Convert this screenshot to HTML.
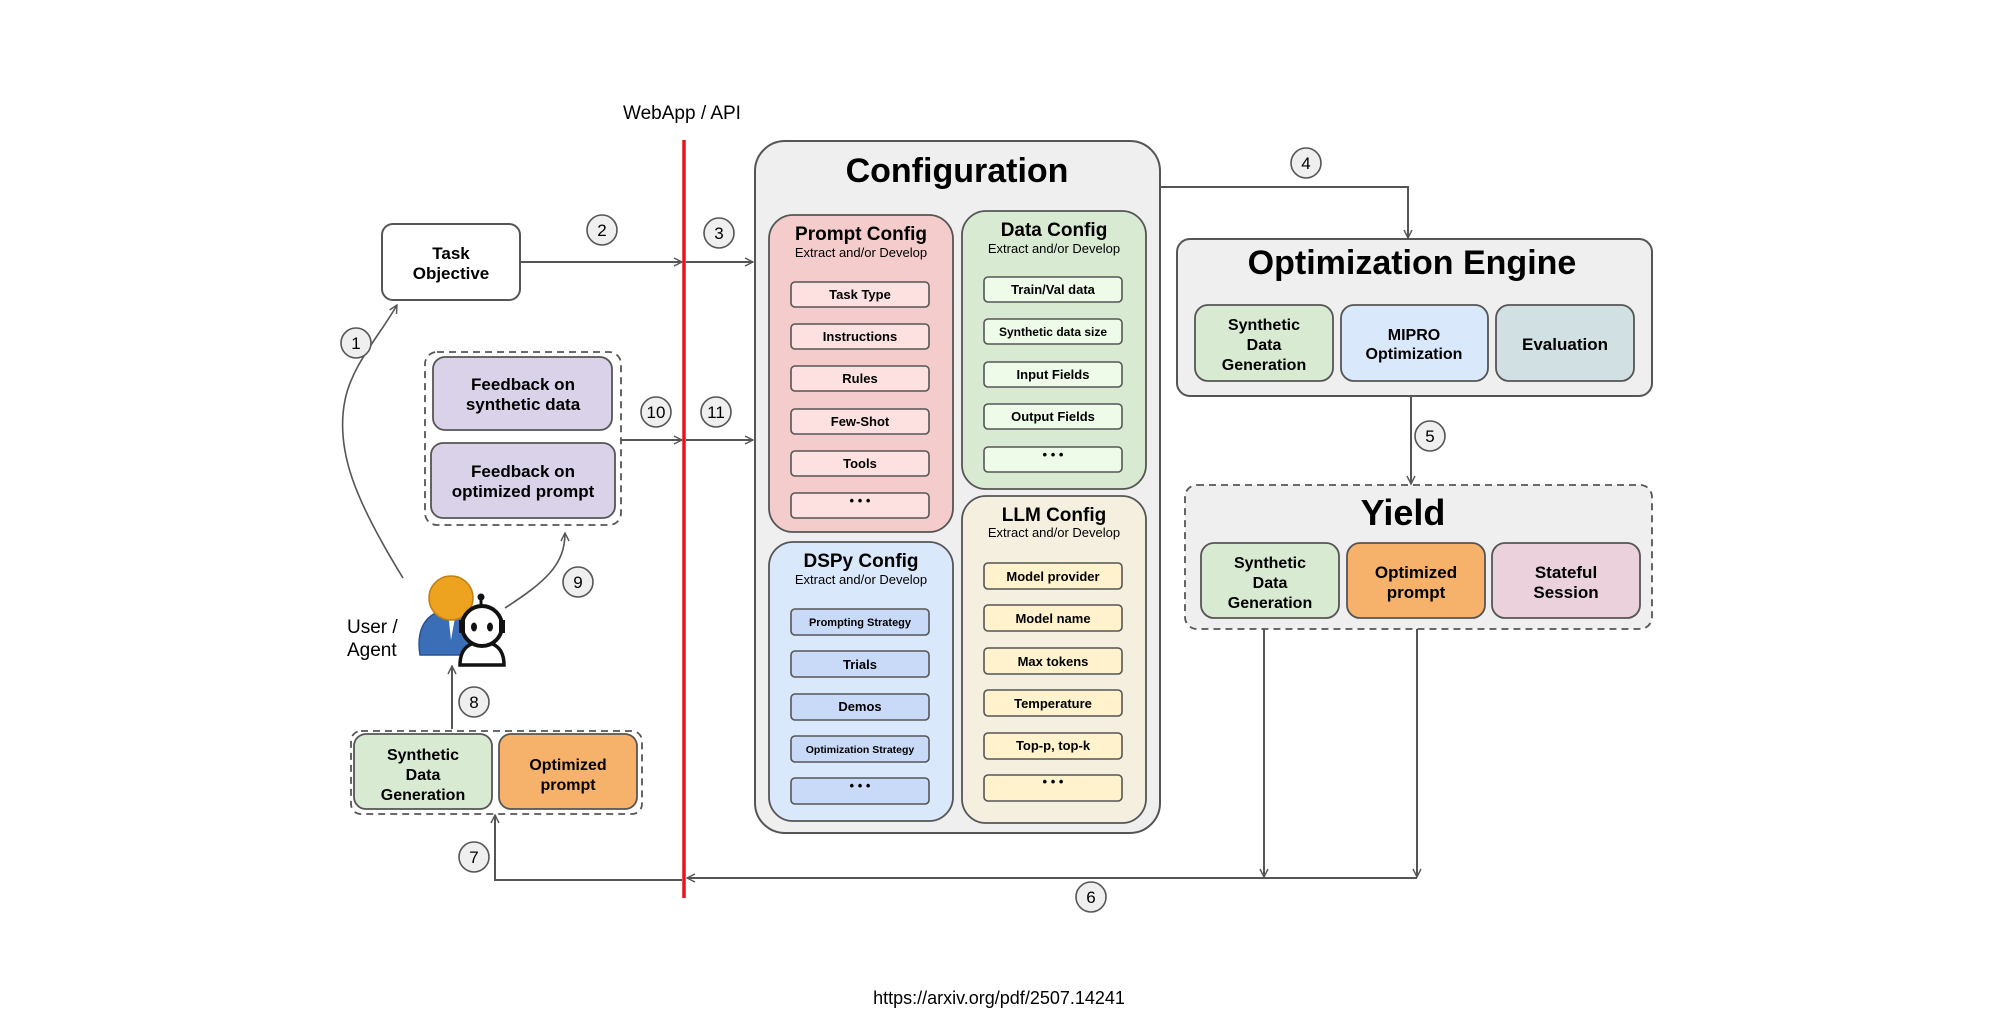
<!DOCTYPE html>
<html><head><meta charset="utf-8"><style>
html,body{margin:0;padding:0;background:#fff;}
svg{display:block;}
text{font-family:"Liberation Sans",Arial,sans-serif;fill:#000;}
.b{font-weight:bold;}
</style></head><body>
<svg width="2000" height="1030" viewBox="0 0 2000 1030" xmlns="http://www.w3.org/2000/svg">
<defs>
<marker id="ar" markerWidth="10" markerHeight="10" refX="9" refY="5" orient="auto" markerUnits="userSpaceOnUse">
<path d="M1,1 L9,5 L1,9" fill="none" stroke="#555" stroke-width="1.4"/>
</marker>
</defs>
<g stroke="#555" stroke-width="2" fill="none">
<!-- arrows -->
<line x1="520" y1="262" x2="682" y2="262" marker-end="url(#ar)"/>
<line x1="686" y1="262" x2="753" y2="262" marker-end="url(#ar)"/>
<line x1="621" y1="440" x2="682" y2="440" marker-end="url(#ar)"/>
<line x1="686" y1="440" x2="753" y2="440" marker-end="url(#ar)"/>
<polyline points="1160,187 1408,187 1408,238" marker-end="url(#ar)"/>
<line x1="1411" y1="396" x2="1411" y2="484" marker-end="url(#ar)"/>
<line x1="1264" y1="623" x2="1264" y2="877" marker-end="url(#ar)"/>
<line x1="1417" y1="623" x2="1417" y2="877" marker-end="url(#ar)"/>
<polyline points="1417,878 687,878" marker-end="url(#ar)"/>
<polyline points="682,880 495,880 495,815" marker-end="url(#ar)"/>
<line x1="452" y1="729" x2="452" y2="666" marker-end="url(#ar)"/>
<path d="M403,578 C355,500 335,450 345,400 C352,365 380,335 397,305" marker-end="url(#ar)" stroke-width="1.6"/>
<path d="M505,608 C545,582 565,565 565,533" marker-end="url(#ar)" stroke-width="1.6"/>
</g>
<!-- red line -->
<line x1="684" y1="140" x2="684" y2="898" stroke="#e8141c" stroke-width="3.5"/>
<text x="682" y="119" font-size="19" text-anchor="middle">WebApp / API</text>

<!-- Task Objective -->
<rect x="382" y="224" width="138" height="76" rx="11" fill="#fff" stroke="#555" stroke-width="2"/>
<text class="b" x="451" y="259" font-size="17" text-anchor="middle">Task</text>
<text class="b" x="451" y="279" font-size="17" text-anchor="middle">Objective</text>

<!-- feedback -->
<rect x="425" y="352" width="196" height="173" rx="12" fill="#fff" stroke="#555" stroke-width="1.8" stroke-dasharray="7,5"/>
<rect x="433" y="357" width="179" height="73" rx="12" fill="#d9d2e9" stroke="#555" stroke-width="1.8"/>
<text class="b" x="523" y="390" font-size="17" text-anchor="middle">Feedback on</text>
<text class="b" x="523" y="410" font-size="17" text-anchor="middle">synthetic data</text>
<rect x="431" y="443" width="184" height="75" rx="12" fill="#d9d2e9" stroke="#555" stroke-width="1.8"/>
<text class="b" x="523" y="477" font-size="17" text-anchor="middle">Feedback on</text>
<text class="b" x="523" y="497" font-size="17" text-anchor="middle">optimized prompt</text>

<!-- user/agent -->
<text x="347" y="633" font-size="19">User /</text>
<text x="347" y="656" font-size="19">Agent</text>
<path d="M420,655 C416,630 425,612 448,610 L462,610 C478,612 486,630 482,655 Z" fill="#3a6fb8" stroke="#2a5090" stroke-width="1.5"/>
<path d="M448,612 L451,640 L456,612 Z" fill="#fff"/>
<circle cx="451" cy="598" r="22" fill="#eea320" stroke="#c27f10" stroke-width="1.5"/>
<path d="M460,665 C460,648 470,642 482,642 C494,642 504,648 504,665 Z" fill="#fff" stroke="#111" stroke-width="3.5"/>
<circle cx="482" cy="626" r="20" fill="#fff" stroke="#111" stroke-width="4"/>
<rect x="459" y="620" width="6" height="13" fill="#111"/><rect x="499" y="620" width="6" height="13" fill="#111"/>
<line x1="481" y1="606" x2="481" y2="598" stroke="#111" stroke-width="3"/>
<circle cx="481" cy="597" r="3.5" fill="#111"/>
<ellipse cx="474" cy="627" rx="3" ry="4.5" fill="#111"/><ellipse cx="490" cy="627" rx="3" ry="4.5" fill="#111"/>

<!-- bottom outputs -->
<rect x="351" y="731" width="291" height="83" rx="10" fill="#fff" stroke="#555" stroke-width="1.8" stroke-dasharray="7,5"/>
<rect x="354" y="734" width="138" height="75" rx="12" fill="#d9ead3" stroke="#555" stroke-width="1.8"/>
<text class="b" x="423" y="760" font-size="16" text-anchor="middle">Synthetic</text>
<text class="b" x="423" y="780" font-size="16" text-anchor="middle">Data</text>
<text class="b" x="423" y="800" font-size="16" text-anchor="middle">Generation</text>
<rect x="499" y="734" width="138" height="75" rx="12" fill="#f6b26b" stroke="#555" stroke-width="1.8"/>
<text class="b" x="568" y="770" font-size="16" text-anchor="middle">Optimized</text>
<text class="b" x="568" y="790" font-size="16" text-anchor="middle">prompt</text>

<!-- Configuration -->
<rect x="755" y="141" width="405" height="692" rx="30" fill="#efefef" stroke="#555" stroke-width="2"/>
<text class="b" x="957" y="182" font-size="34" text-anchor="middle">Configuration</text>

<rect x="769" y="215" width="184" height="317" rx="24" fill="#f4cccc" stroke="#555" stroke-width="1.8"/>
<text class="b" x="861" y="240" font-size="19" text-anchor="middle">Prompt Config</text>
<text x="861" y="257" font-size="13" text-anchor="middle">Extract and/or Develop</text>
<g fill="#fde0e0" stroke="#555" stroke-width="1.6">
<rect x="791" y="282" width="138" height="25" rx="4"/><rect x="791" y="324" width="138" height="25" rx="4"/>
<rect x="791" y="366" width="138" height="25" rx="4"/><rect x="791" y="409" width="138" height="25" rx="4"/>
<rect x="791" y="451" width="138" height="25" rx="4"/><rect x="791" y="493" width="138" height="25" rx="4"/>
</g>
<g class="b" font-size="13" text-anchor="middle">
<text class="b" x="860" y="299">Task Type</text><text class="b" x="860" y="341">Instructions</text>
<text class="b" x="860" y="383">Rules</text><text class="b" x="860" y="426">Few-Shot</text>
<text class="b" x="860" y="468">Tools</text><text class="b" x="860" y="505">• • •</text>
</g>

<rect x="962" y="211" width="184" height="278" rx="24" fill="#d9ead3" stroke="#555" stroke-width="1.8"/>
<text class="b" x="1054" y="236" font-size="19" text-anchor="middle">Data Config</text>
<text x="1054" y="253" font-size="13" text-anchor="middle">Extract and/or Develop</text>
<g fill="#eefbe9" stroke="#555" stroke-width="1.6">
<rect x="984" y="277" width="138" height="25" rx="4"/><rect x="984" y="319" width="138" height="25" rx="4"/>
<rect x="984" y="362" width="138" height="25" rx="4"/><rect x="984" y="404" width="138" height="25" rx="4"/>
<rect x="984" y="447" width="138" height="25" rx="4"/>
</g>
<g font-size="13" text-anchor="middle">
<text class="b" x="1053" y="294">Train/Val data</text><text class="b" x="1053" y="336" font-size="12">Synthetic data size</text>
<text class="b" x="1053" y="379">Input Fields</text><text class="b" x="1053" y="421">Output Fields</text>
<text class="b" x="1053" y="459">• • •</text>
</g>

<rect x="769" y="542" width="184" height="279" rx="24" fill="#dae8fc" stroke="#555" stroke-width="1.8"/>
<text class="b" x="861" y="567" font-size="19" text-anchor="middle">DSPy Config</text>
<text x="861" y="584" font-size="13" text-anchor="middle">Extract and/or Develop</text>
<g fill="#c9daf8" stroke="#555" stroke-width="1.6">
<rect x="791" y="609" width="138" height="26" rx="4"/><rect x="791" y="651" width="138" height="26" rx="4"/>
<rect x="791" y="694" width="138" height="26" rx="4"/><rect x="791" y="736" width="138" height="26" rx="4"/>
<rect x="791" y="778" width="138" height="26" rx="4"/>
</g>
<g text-anchor="middle">
<text class="b" x="860" y="626" font-size="11">Prompting Strategy</text><text class="b" x="860" y="669" font-size="13">Trials</text>
<text class="b" x="860" y="711" font-size="13">Demos</text><text class="b" x="860" y="753" font-size="10.5">Optimization Strategy</text>
<text class="b" x="860" y="790" font-size="13">• • •</text>
</g>

<rect x="962" y="496" width="184" height="327" rx="24" fill="#f5efe0" stroke="#555" stroke-width="1.8"/>
<text class="b" x="1054" y="521" font-size="19" text-anchor="middle">LLM Config</text>
<text x="1054" y="537" font-size="13" text-anchor="middle">Extract and/or Develop</text>
<g fill="#fff2cc" stroke="#555" stroke-width="1.6">
<rect x="984" y="563" width="138" height="26" rx="4"/><rect x="984" y="605" width="138" height="26" rx="4"/>
<rect x="984" y="648" width="138" height="26" rx="4"/><rect x="984" y="690" width="138" height="26" rx="4"/>
<rect x="984" y="733" width="138" height="26" rx="4"/><rect x="984" y="775" width="138" height="26" rx="4"/>
</g>
<g font-size="13" text-anchor="middle">
<text class="b" x="1053" y="581">Model provider</text><text class="b" x="1053" y="623">Model name</text>
<text class="b" x="1053" y="666">Max tokens</text><text class="b" x="1053" y="708">Temperature</text>
<text class="b" x="1053" y="750">Top-p, top-k</text><text class="b" x="1053" y="786">• • •</text>
</g>

<!-- Optimization Engine -->
<rect x="1177" y="239" width="475" height="157" rx="13" fill="#efefef" stroke="#555" stroke-width="2"/>
<text class="b" x="1412" y="274" font-size="34" text-anchor="middle">Optimization Engine</text>
<rect x="1195" y="305" width="138" height="76" rx="13" fill="#d9ead3" stroke="#555" stroke-width="1.8"/>
<text class="b" x="1264" y="330" font-size="16" text-anchor="middle">Synthetic</text>
<text class="b" x="1264" y="350" font-size="16" text-anchor="middle">Data</text>
<text class="b" x="1264" y="370" font-size="16" text-anchor="middle">Generation</text>
<rect x="1341" y="305" width="147" height="76" rx="13" fill="#dae8fc" stroke="#555" stroke-width="1.8"/>
<text class="b" x="1414" y="340" font-size="16" text-anchor="middle">MIPRO</text>
<text class="b" x="1414" y="359" font-size="16" text-anchor="middle">Optimization</text>
<rect x="1496" y="305" width="138" height="76" rx="13" fill="#d0e0e3" stroke="#555" stroke-width="1.8"/>
<text class="b" x="1565" y="350" font-size="17" text-anchor="middle">Evaluation</text>

<!-- Yield -->
<rect x="1185" y="485" width="467" height="144" rx="12" fill="#efefef" stroke="#555" stroke-width="1.8" stroke-dasharray="7,5"/>
<text class="b" x="1403" y="525" font-size="36" text-anchor="middle">Yield</text>
<rect x="1201" y="543" width="138" height="75" rx="13" fill="#d9ead3" stroke="#555" stroke-width="1.8"/>
<text class="b" x="1270" y="568" font-size="16" text-anchor="middle">Synthetic</text>
<text class="b" x="1270" y="588" font-size="16" text-anchor="middle">Data</text>
<text class="b" x="1270" y="608" font-size="16" text-anchor="middle">Generation</text>
<rect x="1347" y="543" width="138" height="75" rx="13" fill="#f6b26b" stroke="#555" stroke-width="1.8"/>
<text class="b" x="1416" y="578" font-size="17" text-anchor="middle">Optimized</text>
<text class="b" x="1416" y="598" font-size="17" text-anchor="middle">prompt</text>
<rect x="1492" y="543" width="148" height="75" rx="13" fill="#ead1dc" stroke="#555" stroke-width="1.8"/>
<text class="b" x="1566" y="578" font-size="17" text-anchor="middle">Stateful</text>
<text class="b" x="1566" y="598" font-size="17" text-anchor="middle">Session</text>

<!-- number circles -->
<g fill="#efefef" stroke="#555" stroke-width="1.6">
<circle cx="356" cy="343" r="15"/><circle cx="602" cy="230" r="15"/><circle cx="719" cy="233" r="15"/>
<circle cx="1306" cy="163" r="15"/><circle cx="1430" cy="436" r="15"/><circle cx="1091" cy="897" r="15"/>
<circle cx="474" cy="857" r="15"/><circle cx="474" cy="702" r="15"/><circle cx="578" cy="582" r="15"/>
<circle cx="656" cy="412" r="15"/><circle cx="716" cy="412" r="15"/>
</g>
<g font-size="17" text-anchor="middle" fill="#444">
<text x="356" y="349" fill="#444">1</text><text x="602" y="236" fill="#444">2</text><text x="719" y="239" fill="#444">3</text>
<text x="1306" y="169" fill="#444">4</text><text x="1430" y="442" fill="#444">5</text><text x="1091" y="903" fill="#444">6</text>
<text x="474" y="863" fill="#444">7</text><text x="474" y="708" fill="#444">8</text><text x="578" y="588" fill="#444">9</text>
<text x="656" y="418" fill="#444">10</text><text x="716" y="418" fill="#444">11</text>
</g>

<text x="999" y="1004" font-size="18" text-anchor="middle">https://arxiv.org/pdf/2507.14241</text>
</svg>
</body></html>
